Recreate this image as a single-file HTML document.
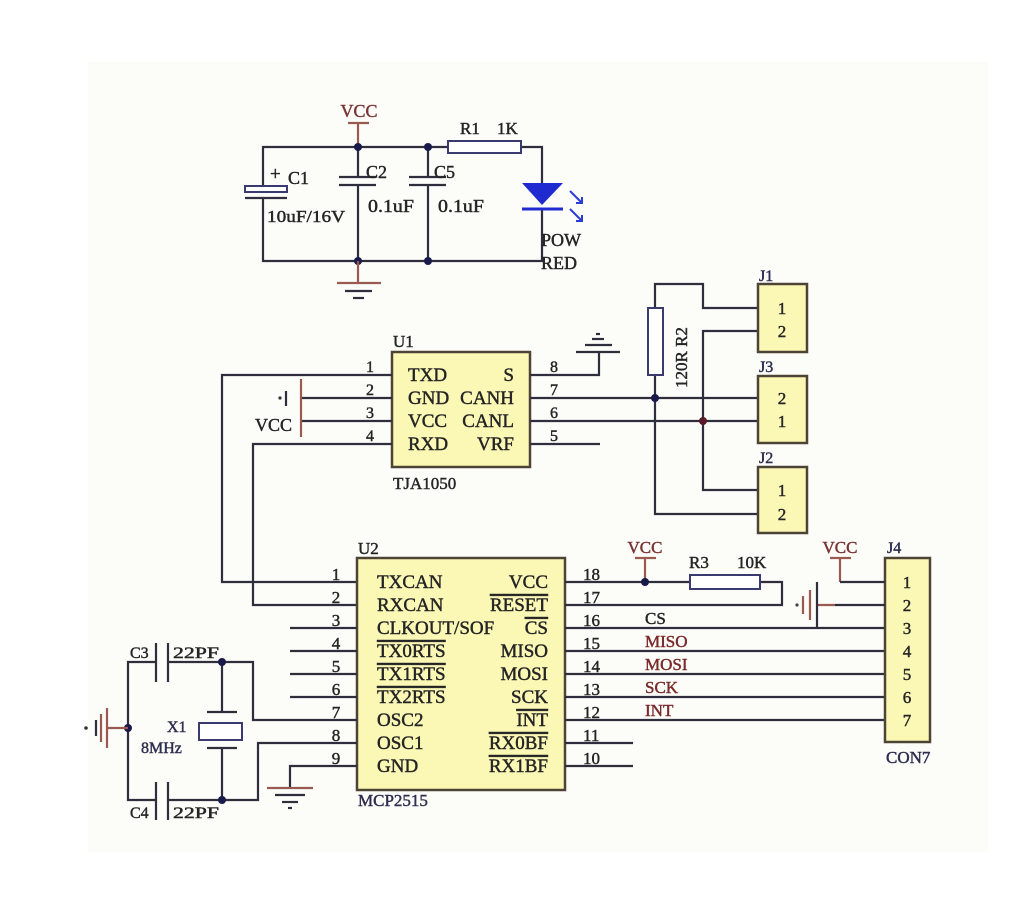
<!DOCTYPE html>
<html><head><meta charset="utf-8"><style>
html,body{margin:0;padding:0;background:#fff;}
svg{display:block;}
text{font-family:"Liberation Serif",serif;fill:#252525;stroke:#252525;stroke-width:0.45px;}
.w{stroke:#2e2e3c;stroke-width:2.2;fill:none;}
.r{stroke:#9a5a50;stroke-width:2.2;fill:none;}
.chip{fill:#fbf8b6;stroke:#4e4436;stroke-width:2.5;}
.res{fill:#fff;stroke:#3a3a70;stroke-width:2;}
text.v{fill:#7a3434;stroke:#7a3434;}
text.n{fill:#7a2a2a;stroke:#7a2a2a;}
text.bl{fill:#2e2e50;stroke:#2e2e50;}
.ol{text-decoration:overline;}
</style></head><body>
<svg width="1024" height="910" viewBox="0 0 1024 910" xmlns="http://www.w3.org/2000/svg">
<rect x="0" y="0" width="1024" height="910" fill="#ffffff"/>
<rect x="88" y="62" width="900" height="790" fill="#fcfcf9"/>

<!-- ===== Top power section ===== -->
<text class="v" x="359" y="117" font-size="18" text-anchor="middle">VCC</text>
<line class="r" x1="348" y1="123" x2="369" y2="123"/>
<line class="r" x1="358" y1="123" x2="358" y2="147"/>
<path class="w" d="M263 186 V147 H448 M521 147 H542 V183 M542 209 V261 H263 V198"/>
<rect class="res" x="448" y="141" width="73" height="12"/>
<text x="460" y="134" font-size="17">R1</text>
<text x="497" y="134" font-size="17">1K</text>
<!-- C1 -->
<rect x="245" y="186" width="42" height="6" fill="#fff" stroke="#3a3a70" stroke-width="2"/>
<line class="w" x1="245" y1="198" x2="287" y2="198"/>
<text x="270" y="180" font-size="19">+</text>
<text x="288" y="184" font-size="18">C1</text>
<text x="267" y="222" font-size="17" textLength="78" lengthAdjust="spacingAndGlyphs">10uF/16V</text>
<!-- C2 -->
<path class="w" d="M358 147 V177 M339 177 H376 M339 185 H376 M358 185 V261"/>
<text x="366" y="178" font-size="18">C2</text>
<text x="368" y="212" font-size="18" textLength="46" lengthAdjust="spacingAndGlyphs">0.1uF</text>
<!-- C5 -->
<path class="w" d="M428 147 V177 M409 177 H446 M409 185 H446 M428 185 V261"/>
<text x="434" y="178" font-size="18">C5</text>
<text x="438" y="212" font-size="18" textLength="46" lengthAdjust="spacingAndGlyphs">0.1uF</text>
<!-- LED -->
<polygon points="522,183 563,183 542,205" fill="#1f2bd0"/>
<line x1="522" y1="209" x2="563" y2="209" stroke="#1f2bd0" stroke-width="3"/>
<path d="M570 191 L581 202 M576 203 L582 203 L582 197" stroke="#2b3bd8" stroke-width="2" fill="none"/>
<path d="M570 209 L581 220 M576 221 L582 221 L582 215" stroke="#2b3bd8" stroke-width="2" fill="none"/>
<text x="541" y="246" font-size="18">POW</text>
<text x="541" y="269" font-size="18">RED</text>
<circle cx="358" cy="147" r="4" fill="#1a1a4a"/>
<circle cx="428" cy="147" r="4" fill="#1a1a4a"/>
<circle cx="358" cy="261" r="4" fill="#1a1a4a"/>
<circle cx="428" cy="261" r="4" fill="#1a1a4a"/>
<!-- ground -->
<line class="r" x1="358" y1="261" x2="358" y2="283"/>
<line class="r" x1="337" y1="283" x2="381" y2="283"/>
<line class="w" x1="345" y1="291" x2="372" y2="291"/>
<line class="w" x1="353" y1="298" x2="364" y2="298"/>

<!-- ===== U1 TJA1050 ===== -->
<rect class="chip" x="392" y="352" width="138" height="115"/>
<text x="393" y="347" font-size="17">U1</text>
<text x="393" y="489" font-size="17">TJA1050</text>
<g font-size="19">
<text x="408" y="381">TXD</text>
<text x="408" y="404">GND</text>
<text x="408" y="427">VCC</text>
<text x="408" y="450">RXD</text>
<text x="514" y="381" text-anchor="end">S</text>
<text x="514" y="404" text-anchor="end">CANH</text>
<text x="514" y="427" text-anchor="end">CANL</text>
<text x="514" y="450" text-anchor="end">VRF</text>
</g>
<g font-size="16" text-anchor="middle">
<text x="370" y="372">1</text>
<text x="370" y="395">2</text>
<text x="370" y="418">3</text>
<text x="370" y="441">4</text>
<text x="554" y="372">8</text>
<text x="554" y="395">7</text>
<text x="554" y="418">6</text>
<text x="554" y="441">5</text>
</g>
<path class="w" d="M392 375 H222 V582 H357"/>
<path class="w" d="M392 444 H253 V605 H357"/>
<path class="w" d="M392 398 H301 M392 421 H301"/>
<line class="r" x1="301" y1="379" x2="301" y2="437"/>
<line class="w" x1="286" y1="391" x2="286" y2="406"/>
<circle cx="280" cy="398" r="1.6" fill="#333"/>
<text x="255" y="431" font-size="18">VCC</text>
<path class="w" d="M530 375 H599 V352"/>
<line class="w" x1="576" y1="352" x2="620" y2="352"/>
<line class="w" x1="585" y1="345" x2="612" y2="345"/>
<line class="w" x1="592" y1="339" x2="604" y2="339"/>
<line class="w" x1="596" y1="334" x2="600" y2="334"/>
<path class="w" d="M530 398 H758 M530 421 H758 M530 444 H600"/>

<!-- ===== J1 / J2 / J3 / R2 ===== -->
<path class="w" d="M655 308 V284 H703 V308 H758"/>
<path class="w" d="M655 375 V514 H758"/>
<path class="w" d="M758 331 H703 V490 H758"/>
<rect class="res" x="648" y="308" width="15" height="67"/>
<text transform="translate(687,388) rotate(-90)" font-size="17">120R  R2</text>
<circle cx="655" cy="398" r="4" fill="#1a1a4a"/>
<circle cx="703" cy="421" r="4" fill="#5a1a2a"/>
<rect class="chip" x="758" y="284" width="49" height="68"/>
<rect class="chip" x="758" y="376" width="49" height="67"/>
<rect class="chip" x="758" y="467" width="49" height="66"/>
<text class="bl" x="759" y="281" font-size="16">J1</text>
<text class="bl" x="759" y="372" font-size="16">J3</text>
<text class="bl" x="759" y="463" font-size="16">J2</text>
<g font-size="17" text-anchor="middle">
<text x="782" y="314">1</text>
<text x="782" y="337">2</text>
<text x="782" y="404">2</text>
<text x="782" y="427">1</text>
<text x="782" y="496">1</text>
<text x="782" y="520">2</text>
</g>

<!-- ===== U2 MCP2515 ===== -->
<rect class="chip" x="357" y="558" width="208" height="232"/>
<text x="358" y="554" font-size="17">U2</text>
<text class="bl" x="358" y="806" font-size="17">MCP2515</text>
<g font-size="19">
<text x="377" y="588">TXCAN</text>
<text x="377" y="611">RXCAN</text>
<text x="377" y="634">CLKOUT/SOF</text>
<text x="377" y="657" class="ol">TX0RTS</text>
<text x="377" y="680" class="ol">TX1RTS</text>
<text x="377" y="703" class="ol">TX2RTS</text>
<text x="377" y="726">OSC2</text>
<text x="377" y="749">OSC1</text>
<text x="377" y="772">GND</text>
<text x="548" y="588" text-anchor="end">VCC</text>
<text x="548" y="611" text-anchor="end" class="ol">RESET</text>
<text x="548" y="634" text-anchor="end" class="ol">CS</text>
<text x="548" y="657" text-anchor="end">MISO</text>
<text x="548" y="680" text-anchor="end">MOSI</text>
<text x="548" y="703" text-anchor="end">SCK</text>
<text x="548" y="726" text-anchor="end" class="ol">INT</text>
<text x="548" y="749" text-anchor="end" class="ol">RX0BF</text>
<text x="548" y="772" text-anchor="end" class="ol">RX1BF</text>
</g>
<g font-size="17" text-anchor="middle">
<text x="336" y="580">1</text>
<text x="336" y="603">2</text>
<text x="336" y="626">3</text>
<text x="336" y="649">4</text>
<text x="336" y="672">5</text>
<text x="336" y="695">6</text>
<text x="336" y="718">7</text>
<text x="336" y="741">8</text>
<text x="336" y="764">9</text>
</g>
<g font-size="17">
<text x="583" y="580">18</text>
<text x="583" y="603">17</text>
<text x="583" y="626">16</text>
<text x="583" y="649">15</text>
<text x="583" y="672">14</text>
<text x="583" y="695">13</text>
<text x="583" y="718">12</text>
<text x="583" y="741">11</text>
<text x="583" y="764">10</text>
</g>
<path class="w" d="M290 628 H357 M290 651 H357 M290 674 H357 M290 697 H357"/>
<path class="w" d="M222 662 H253 V720 H357"/>
<path class="w" d="M222 800 H258 V743 H357"/>
<path class="w" d="M357 766 H290 V788"/>
<line class="r" x1="267" y1="788" x2="313" y2="788"/>
<line class="w" x1="275" y1="795" x2="305" y2="795"/>
<line class="w" x1="282" y1="802" x2="298" y2="802"/>
<line class="w" x1="288" y1="808" x2="292" y2="808"/>

<!-- right side nets -->
<path class="w" d="M565 582 H690 M760 582 H782 V605 H565"/>
<rect class="res" x="690" y="575" width="70" height="14"/>
<text x="689" y="568" font-size="17">R3</text>
<text x="737" y="568" font-size="17">10K</text>
<text class="v" x="645" y="553" font-size="17" text-anchor="middle">VCC</text>
<line class="r" x1="635" y1="558" x2="656" y2="558"/>
<line class="r" x1="645" y1="558" x2="645" y2="582"/>
<circle cx="645" cy="582" r="4" fill="#1a1a4a"/>
<path class="w" d="M565 628 H885 M565 651 H885 M565 674 H885 M565 697 H885 M565 720 H885"/>
<path class="w" d="M565 743 H633 M565 766 H633"/>
<text x="645" y="624" font-size="17">CS</text>
<text class="n" x="645" y="647" font-size="17">MISO</text>
<text class="n" x="645" y="670" font-size="17">MOSI</text>
<text class="n" x="645" y="693" font-size="17">SCK</text>
<text class="n" x="645" y="716" font-size="17">INT</text>

<!-- J4 -->
<rect class="chip" x="885" y="558" width="45" height="184"/>
<text class="bl" x="887" y="553" font-size="16">J4</text>
<text class="bl" x="886" y="763" font-size="17">CON7</text>
<text class="v" x="840" y="553" font-size="17" text-anchor="middle">VCC</text>
<line class="r" x1="830" y1="558" x2="851" y2="558"/>
<path class="r" d="M840 558 V582"/>
<path class="w" d="M840 582 H885"/>
<path class="r" d="M817 605 H835"/>
<path class="w" d="M835 605 H885"/>
<line class="w" x1="817" y1="582" x2="817" y2="628"/>
<line class="r" x1="810" y1="590" x2="810" y2="620"/>
<line class="r" x1="803" y1="596" x2="803" y2="614"/>
<circle cx="797" cy="605" r="1.6" fill="#444"/>
<g font-size="17" text-anchor="middle">
<text x="907" y="588">1</text>
<text x="907" y="611">2</text>
<text x="907" y="634">3</text>
<text x="907" y="657">4</text>
<text x="907" y="680">5</text>
<text x="907" y="703">6</text>
<text x="907" y="726">7</text>
</g>

<!-- ===== Crystal section ===== -->
<path class="w" d="M156 662 H128 V800 H156 M168 662 H222 M168 800 H222"/>
<path class="w" d="M156 643 V682 M168 643 V682 M156 782 V820 M168 782 V820"/>
<path class="w" d="M222 662 V712 M207 712 H237 M207 748 H237 M222 748 V800"/>
<rect x="199" y="723" width="43" height="17" fill="#fff" stroke="#3a3a70" stroke-width="2"/>
<circle cx="222" cy="662" r="4" fill="#1a1a4a"/>
<circle cx="222" cy="800" r="4" fill="#1a1a4a"/>
<circle cx="128" cy="728" r="4" fill="#1a1a4a"/>
<path class="r" d="M107 728 H128"/>
<line class="r" x1="107" y1="708" x2="107" y2="748"/>
<line class="r" x1="101" y1="714" x2="101" y2="742"/>
<line class="w" x1="96" y1="720" x2="96" y2="736"/>
<circle cx="86" cy="728" r="1.8" fill="#333"/>
<text x="130" y="658" font-size="16">C3</text>
<text x="173" y="658" font-size="16" textLength="46" lengthAdjust="spacingAndGlyphs">22PF</text>
<text x="130" y="818" font-size="16">C4</text>
<text x="173" y="818" font-size="16" textLength="46" lengthAdjust="spacingAndGlyphs">22PF</text>
<text class="bl" x="167" y="732" font-size="16">X1</text>
<text class="bl" x="141" y="753" font-size="16">8MHz</text>
</svg>
</body></html>
